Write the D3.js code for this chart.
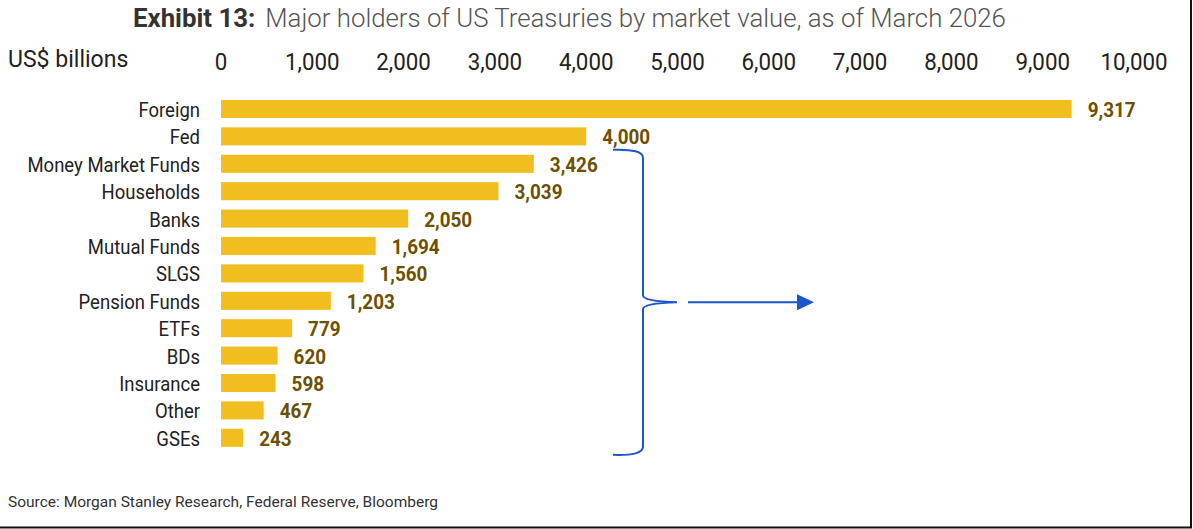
<!DOCTYPE html>
<html>
<head>
<meta charset="utf-8">
<script src="https://cdn.jsdelivr.net/npm/d3@7"></script>
<style>
  body{margin:0;background:#fff;}
  svg text{font-family:Roboto,"Noto Sans",sans-serif;}
</style>
</head>
<body>
<svg id="chart" width="1193" height="529"></svg>
<script>
var categories=['Foreign','Fed','Money Market Funds','Households','Banks','Mutual Funds','SLGS','Pension Funds','ETFs','BDs','Insurance','Other','GSEs'];
var values=[9317,4000,3426,3039,2050,1694,1560,1203,779,620,598,467,243];
var ticks=[0,1000,2000,3000,4000,5000,6000,7000,8000,9000,10000];

var svg=d3.select('#chart');
var fmt=d3.format(',');

var x=d3.scaleLinear().domain([0,10000]).range([221,1134]);
var y=d3.scaleBand().domain(categories).range([95.3,451.5]).paddingInner(0.34).paddingOuter(0.17);

// narrow text helper (squash roboto a bit so it reads condensed)
function ctext(g,tx,ty,str,anchor,sx){
  return g.append('text')
    .attr('transform','translate('+tx+','+ty+') scale('+sx+',1)')
    .attr('text-anchor',anchor)
    .text(str);
}

// title
var title=svg.append('text').attr('x',133).attr('y',27).attr('font-size',25.8);
title.append('tspan').attr('font-weight','bold').attr('fill','#333').text('Exhibit 13:');
title.append('tspan').attr('dx',10).attr('font-weight',300).attr('fill','#555').text('Major holders of US Treasuries by market value, as of March 2026');

// unit + top axis
var axisG=svg.append('g').attr('font-size',24).attr('fill','#222');
ctext(axisG,8,67,'US$ billions','start',0.96);
ticks.forEach(function(t){
  ctext(axisG,x(t),70,fmt(t),'middle',0.93);
});

// category labels
var lab=svg.append('g').attr('font-size',19.5).attr('fill','#222');
categories.forEach(function(c){
  ctext(lab,200,y(c)+y.bandwidth()/2+8,c,'end',0.95);
});

// bars
svg.append('g').selectAll('rect')
  .data(values)
  .join('rect')
  .attr('x',x(0))
  .attr('y',function(d,i){return y(categories[i]);})
  .attr('width',function(d){return x(d)-x(0);})
  .attr('height',y.bandwidth())
  .attr('fill','#F0BE1E');

// value labels
var vals=svg.append('g').attr('font-size',21).attr('font-weight','bold').attr('fill','#6B5100');
values.forEach(function(v,i){
  ctext(vals,x(v)+16,y(categories[i])+y.bandwidth()/2+8,fmt(v),'start',0.9);
});

// brace + arrow
var bTop=y('Money Market Funds')-5;
var bBot=y('GSEs')+y.bandwidth()+8;
var bMid=(bTop+bBot)/2;
var bx=643;
var blue='#1A56C8';
svg.append('path')
  .attr('d','M613,'+bTop+' Q'+bx+','+(bTop-1)+' '+bx+','+(bTop+8)+
    ' L'+bx+','+(bMid-7)+' Q'+bx+','+(bMid-1)+' '+(bx+34)+','+bMid+
    ' Q'+bx+','+(bMid+1)+' '+bx+','+(bMid+7)+
    ' L'+bx+','+(bBot-8)+' Q'+bx+','+(bBot+1)+' 613,'+bBot)
  .attr('fill','none').attr('stroke',blue).attr('stroke-width',2);
svg.append('line')
  .attr('x1',688).attr('x2',800).attr('y1',bMid).attr('y2',bMid)
  .attr('stroke',blue).attr('stroke-width',2);
svg.append('path')
  .attr('d','M797,'+(bMid-8)+' L814,'+bMid+' L797,'+(bMid+8)+' Z')
  .attr('fill',blue);

// source
svg.append('text').attr('x',8).attr('y',507).attr('font-size',15.5).attr('fill','#333')
  .text('Source: Morgan Stanley Research, Federal Reserve, Bloomberg');

// frame edges (right, bottom)
svg.append('line').attr('x1',1191).attr('x2',1191).attr('y1',0).attr('y2',528).attr('stroke','#111').attr('stroke-width',2);
svg.append('line').attr('x1',0).attr('x2',1192).attr('y1',527.5).attr('y2',527.5).attr('stroke','#111').attr('stroke-width',2);
</script>
</body>
</html>
